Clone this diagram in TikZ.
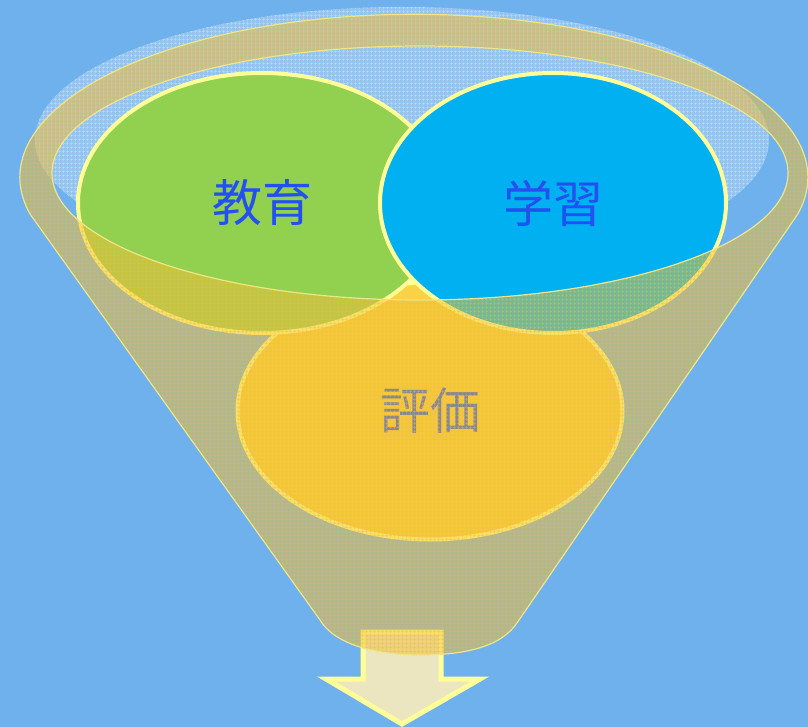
\documentclass[tikz,border=0pt]{standalone}
\usepackage{fontspec}
\newfontfamily\jpfont{Noto Sans CJK JP}
\usetikzlibrary{shapes.geometric,patterns.meta}
\definecolor{skyBg}{RGB}{111,177,236}
\definecolor{funnelGold}{RGB}{238,192,60}
\definecolor{gridGold}{RGB}{252,192,0}
\definecolor{rimLine}{RGB}{238,228,140}
\definecolor{paleRim}{RGB}{255,255,153}
\definecolor{eduGreen}{RGB}{146,208,80}
\definecolor{learnBlue}{RGB}{0,176,240}
\definecolor{evalGold}{RGB}{250,210,70}
\definecolor{labelBlue}{RGB}{35,80,240}
\definecolor{arrowFill}{RGB}{235,230,192}
\tikzset{
  bubble/.style={ellipse,draw=paleRim,line width=4pt,inner sep=0pt,
    font=\jpfont\fontsize{50}{50}\selectfont,text=labelBlue},
  funnelBody/.style={fill=funnelGold,fill opacity=0.5,even odd rule},
  funnelGrid/.style={pattern={Hatch[distance=4pt,angle=0,line width=0.8pt]},
    pattern color=gridGold,fill opacity=0.55,even odd rule},
  funnelEdge/.style={draw=rimLine,line width=1.2pt},
  mouthHaze/.style={fill=white,fill opacity=0.25},
  mouthGrid/.style={pattern={Hatch[distance=4pt,angle=0,line width=0.8pt]},
    pattern color=white,fill opacity=0.35},
  outArrow/.style={fill=arrowFill,draw=paleRim,line width=5pt,line join=miter},
}
\newcommand{\funnelOutline}{(30,214) arc[start angle=167,end angle=373,x radius=394,y radius=163]
  -- (517,623) .. controls (500,648) and (462,655) .. (420,655)
  .. controls (375,655) and (334,644) .. (320,620) -- cycle}
\newcommand{\funnelMouth}{(420,173) ellipse[x radius=368,y radius=127]}

\begin{document}
\begin{tikzpicture}[x=1pt,y=-1pt]
\useasboundingbox (0,0) rectangle (808,727);
\fill[skyBg] (0,0) rectangle (808,727);

% ===== Hazy top of the funnel =====
\fill[mouthHaze] (402,140) ellipse[x radius=367,y radius=133];
\fill[mouthGrid] (402,140) ellipse[x radius=367,y radius=133];

% ===== Three circles =====
\node[bubble,fill=evalGold,minimum width=385pt,minimum height=257pt]
  (eval) at (430,411) {評価};
\node[bubble,fill=eduGreen,minimum width=368pt,minimum height=260pt]
  (edu) at (262,203) {教育};
\node[bubble,fill=learnBlue,minimum width=346pt,minimum height=260pt]
  (learn) at (553,203) {学習};

% ===== Output arrow =====
\draw[outArrow] (363,632) -- (441,632) -- (441,679) -- (480,679) -- (402,724)
  -- (326,679) -- (363,679) -- cycle;

% ===== Funnel (rim + cone) over everything =====
\fill[funnelBody] \funnelOutline \funnelMouth;
\fill[funnelGrid] \funnelOutline \funnelMouth;
\draw[funnelEdge] \funnelOutline;
\draw[funnelEdge] \funnelMouth;

\end{tikzpicture}
\end{document}
